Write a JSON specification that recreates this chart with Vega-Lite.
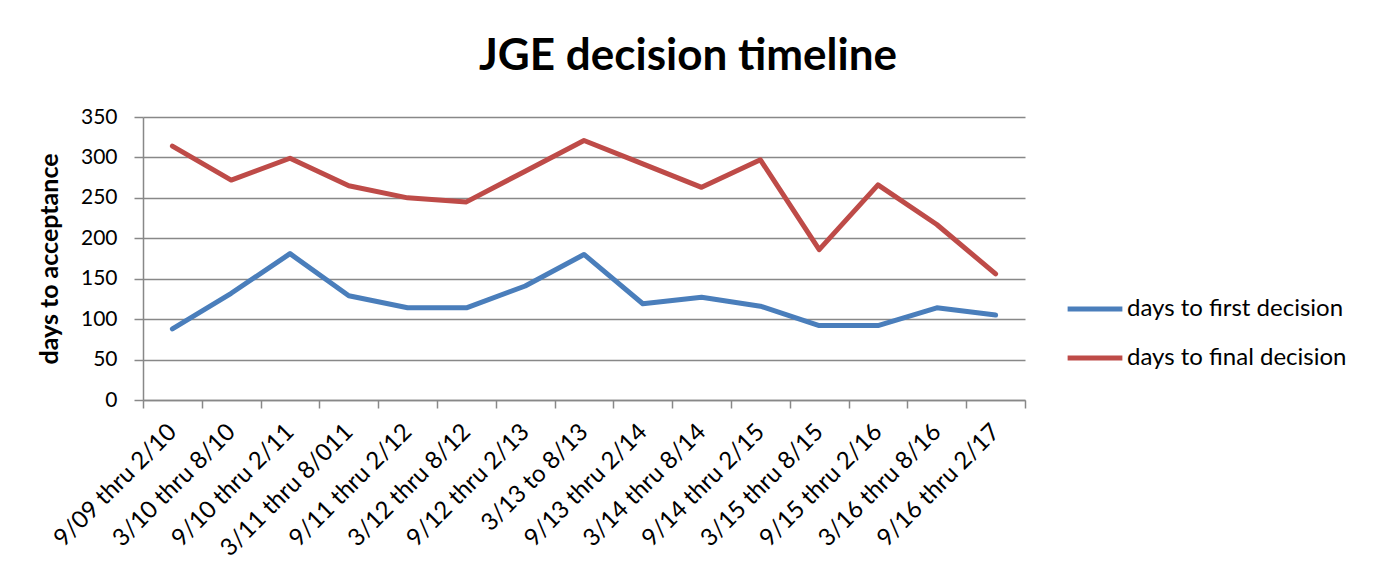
{
  "$schema": "https://vega.github.io/schema/vega-lite/v6.json",
  "width": 882,
  "height": 283,
  "autosize": {"type": "none"},
  "padding": {"left": 143, "top": 117, "right": 353, "bottom": 180},
  "background": "white",
  "title": {
    "text": "JGE decision timeline",
    "font": "Lato",
    "fontSize": 44,
    "fontWeight": "bold",
    "color": "#000000",
    "anchor": "middle",
    "frame": "group",
    "dx": 104,
    "baseline": "alphabetic",
    "offset": -8
  },
  "data": {
    "values": [
      {"period": "9/09 thru 2/10", "series": "days to first decision", "days": 88},
      {"period": "3/10 thru 8/10", "series": "days to first decision", "days": 132},
      {"period": "9/10 thru 2/11", "series": "days to first decision", "days": 181},
      {"period": "3/11 thru 8/011", "series": "days to first decision", "days": 129},
      {"period": "9/11 thru 2/12", "series": "days to first decision", "days": 114},
      {"period": "3/12 thru 8/12", "series": "days to first decision", "days": 114},
      {"period": "9/12 thru 2/13", "series": "days to first decision", "days": 141},
      {"period": "3/13 to 8/13", "series": "days to first decision", "days": 180},
      {"period": "9/13 thru 2/14", "series": "days to first decision", "days": 119},
      {"period": "3/14 thru 8/14", "series": "days to first decision", "days": 127},
      {"period": "9/14 thru 2/15", "series": "days to first decision", "days": 116},
      {"period": "3/15 thru 8/15", "series": "days to first decision", "days": 92},
      {"period": "9/15 thru 2/16", "series": "days to first decision", "days": 92},
      {"period": "3/16 thru 8/16", "series": "days to first decision", "days": 114},
      {"period": "9/16 thru 2/17", "series": "days to first decision", "days": 105},
      {"period": "9/09 thru 2/10", "series": "days to final decision", "days": 314},
      {"period": "3/10 thru 8/10", "series": "days to final decision", "days": 272},
      {"period": "9/10 thru 2/11", "series": "days to final decision", "days": 299},
      {"period": "3/11 thru 8/011", "series": "days to final decision", "days": 265},
      {"period": "9/11 thru 2/12", "series": "days to final decision", "days": 250},
      {"period": "3/12 thru 8/12", "series": "days to final decision", "days": 245},
      {"period": "9/12 thru 2/13", "series": "days to final decision", "days": 283},
      {"period": "3/13 to 8/13", "series": "days to final decision", "days": 321},
      {"period": "9/13 thru 2/14", "series": "days to final decision", "days": 292},
      {"period": "3/14 thru 8/14", "series": "days to final decision", "days": 263},
      {"period": "9/14 thru 2/15", "series": "days to final decision", "days": 297},
      {"period": "3/15 thru 8/15", "series": "days to final decision", "days": 186},
      {"period": "9/15 thru 2/16", "series": "days to final decision", "days": 266},
      {"period": "3/16 thru 8/16", "series": "days to final decision", "days": 217},
      {"period": "9/16 thru 2/17", "series": "days to final decision", "days": 156}
    ]
  },
  "mark": {"type": "line", "strokeWidth": 5, "strokeJoin": "round", "strokeCap": "round"},
  "encoding": {
    "x": {
      "field": "period",
      "type": "ordinal",
      "sort": null,
      "scale": {"type": "band", "paddingInner": 0, "paddingOuter": 0},
      "axis": {
        "title": null,
        "tickBand": "extent",
        "labelAngle": -45,
        "labelAlign": "right",
        "labelBaseline": "middle",
        "labelFont": "Lato",
        "labelFontSize": 24,
        "labelColor": "#000000",
        "labelPadding": 20,
        "labelLimit": 400,
        "tickSize": 8,
        "tickColor": "#888888",
        "tickWidth": 1.5,
        "domainColor": "#888888",
        "domainWidth": 1.5,
        "grid": false
      }
    },
    "y": {
      "field": "days",
      "type": "quantitative",
      "scale": {"domain": [0, 350], "nice": false},
      "axis": {
        "title": "days  to acceptance",
        "titleFont": "Lato",
        "titleFontSize": 25,
        "titleFontWeight": "bold",
        "titleColor": "#000000",
        "titlePadding": 18,
        "values": [0, 50, 100, 150, 200, 250, 300, 350],
        "labelFont": "Lato",
        "labelFontSize": 21,
        "labelColor": "#000000",
        "labelPadding": 17,
        "tickSize": 9,
        "tickColor": "#888888",
        "tickWidth": 1.5,
        "domainColor": "#888888",
        "domainWidth": 1.5,
        "grid": true,
        "gridColor": "#888888",
        "gridWidth": 1.5
      }
    },
    "color": {
      "field": "series",
      "type": "nominal",
      "scale": {
        "domain": ["days to first decision", "days to final decision"],
        "range": ["#4A7EBB", "#BE4B48"]
      },
      "legend": {
        "title": null,
        "orient": "none",
        "legendX": 922,
        "legendY": 162,
        "symbolType": "stroke",
        "symbolSize": 3000,
        "symbolStrokeWidth": 5,
        "labelFont": "Lato",
        "labelFontSize": 24,
        "labelColor": "#000000",
        "labelOffset": 2,
        "labelLimit": 400,
        "rowPadding": 7,
        "padding": 0
      }
    }
  },
  "config": {
    "view": {"stroke": null}
  }
}
